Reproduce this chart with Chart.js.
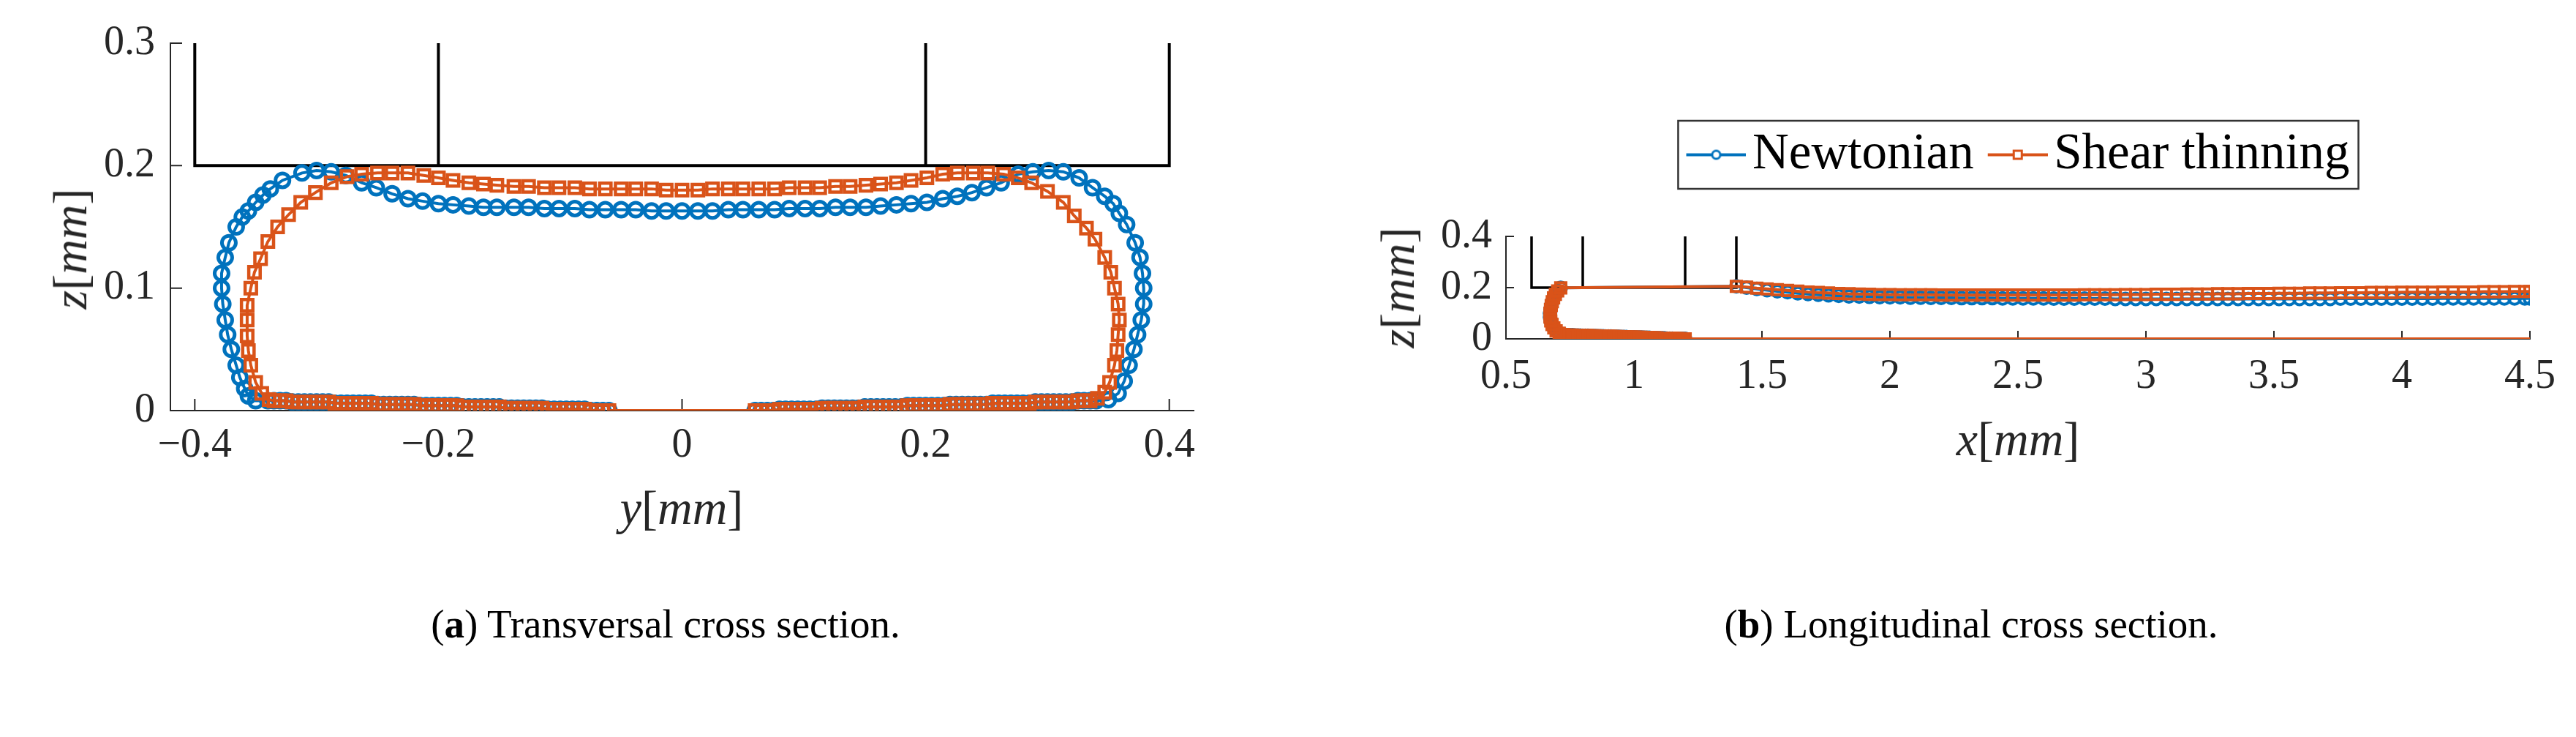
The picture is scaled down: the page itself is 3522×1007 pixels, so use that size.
<!DOCTYPE html>
<html>
<head>
<meta charset="utf-8">
<script src="https://cdn.jsdelivr.net/npm/chart.js@4.4.1/dist/chart.umd.min.js"></script>
<style>
  html, body { margin: 0; padding: 0; background: #fff; }
  body { width: 3522px; height: 1007px; position: relative; overflow: hidden; font-family: 'Liberation Serif', serif; color: #262626; }
  canvas { position: absolute; top: 0; }
  #transChart { left: 0; }
  #longChart { left: 1800px; }
  .axis-title { position: absolute; font-size: 66px; line-height: 1; white-space: nowrap; transform: translate(-50%, -50%); }
  .axis-title.vertical { transform: translate(-50%, -50%) rotate(-90deg); }
  .caption { position: absolute; top: 825px; font-size: 55px; line-height: 1; color: #000; white-space: nowrap; transform: translateX(-50%); }
</style>
</head>
<body>
<canvas id="transChart" width="1750" height="760"></canvas>
<canvas id="longChart" width="1722" height="760"></canvas>

<div class="axis-title vertical" style="left:96px; top:340px"><i>z</i>[<i>mm</i>]</div>
<div class="axis-title" style="left:932px; top:694px"><i>y</i>[<i>mm</i>]</div>
<div class="axis-title vertical" style="left:1911px; top:393px"><i>z</i>[<i>mm</i>]</div>
<div class="axis-title" style="left:2759px; top:600px"><i>x</i>[<i>mm</i>]</div>

<div class="caption" style="left:910px">(<b>a</b>) Transversal cross section.</div>
<div class="caption" style="left:2695px">(<b>b</b>) Longitudinal cross section.</div>

<script>
// ---- transversal cross section (y, z in mm) ----
// each outline: start at the gap, along the right bottom, up the right side,
// over the top, down the left side and back along the left bottom
const newtTransY = [
  -0.060,
  0.060, 0.065, 0.070, 0.075, 0.080, 0.085, 0.090, 0.095, 0.100, 0.105, 0.110, 0.115, 0.120, 0.125, 0.130, 0.135,
  0.140, 0.145, 0.150, 0.155, 0.160, 0.165, 0.170, 0.175, 0.180, 0.185, 0.190, 0.195, 0.200, 0.205, 0.210, 0.215,
  0.220, 0.225, 0.230, 0.235, 0.240, 0.245, 0.250, 0.255, 0.260, 0.265, 0.270, 0.275, 0.280, 0.285, 0.290, 0.295,
  0.300, 0.305, 0.310, 0.315, 0.320, 0.325, 0.330, 0.335, 0.340,
  0.350, 0.358, 0.363, 0.367, 0.371, 0.374, 0.377, 0.379, 0.379, 0.378, 0.376, 0.372, 0.365, 0.359, 0.354, 0.347,
  0.337, 0.326, 0.313, 0.301, 0.288, 0.276, 0.262, 0.250, 0.238, 0.226, 0.214, 0.201, 0.188, 0.176, 0.163, 0.151,
  0.138, 0.126, 0.113, 0.101, 0.088, 0.076, 0.063, 0.050, 0.038, 0.025, 0.013, 0.000, -0.013, -0.025, -0.038, -0.050,
  -0.063, -0.076, -0.088, -0.101, -0.113, -0.126, -0.138,
  -0.152, -0.163, -0.175, -0.188, -0.200, -0.213, -0.225, -0.238, -0.251, -0.263, -0.276, -0.288, -0.300, -0.312,
  -0.328, -0.338, -0.344, -0.350, -0.356, -0.361, -0.366, -0.372, -0.375, -0.378, -0.378, -0.377, -0.375, -0.373,
  -0.370, -0.366, -0.363, -0.359, -0.356, -0.350,
  -0.340, -0.335, -0.330, -0.325, -0.320, -0.315, -0.310, -0.305, -0.300, -0.295, -0.290, -0.285, -0.280, -0.275,
  -0.270, -0.265, -0.260, -0.255, -0.250, -0.245, -0.240, -0.235, -0.230, -0.225, -0.220, -0.215, -0.210, -0.205,
  -0.200, -0.195, -0.190, -0.185, -0.180, -0.175, -0.170, -0.165, -0.160, -0.155, -0.150, -0.145, -0.140, -0.135,
  -0.130, -0.125, -0.120, -0.115, -0.110, -0.105, -0.100, -0.095, -0.090, -0.085, -0.080, -0.075, -0.070, -0.065
];
const newtTransZ = [
  0.000,
  0.000, 0.000, 0.000, 0.000, 0.001, 0.001, 0.001, 0.001, 0.001, 0.001, 0.001, 0.002, 0.002, 0.002, 0.002, 0.002,
  0.002, 0.002, 0.003, 0.003, 0.003, 0.003, 0.003, 0.003, 0.003, 0.004, 0.004, 0.004, 0.004, 0.004, 0.004, 0.004,
  0.005, 0.005, 0.005, 0.005, 0.005, 0.005, 0.005, 0.006, 0.006, 0.006, 0.006, 0.006, 0.006, 0.006, 0.007, 0.007,
  0.007, 0.007, 0.007, 0.007, 0.007, 0.008, 0.008, 0.008, 0.008,
  0.009, 0.014, 0.024, 0.037, 0.050, 0.062, 0.074, 0.087, 0.100, 0.112, 0.125, 0.137, 0.152, 0.161, 0.169, 0.175,
  0.182, 0.190, 0.195, 0.196, 0.195, 0.193, 0.186, 0.182, 0.178, 0.175, 0.173, 0.170, 0.169, 0.168, 0.167, 0.166,
  0.166, 0.166, 0.165, 0.165, 0.165, 0.164, 0.164, 0.164, 0.164, 0.163, 0.163, 0.163, 0.163, 0.163, 0.164, 0.164,
  0.164, 0.164, 0.165, 0.165, 0.165, 0.166, 0.166,
  0.166, 0.166, 0.167, 0.168, 0.169, 0.171, 0.173, 0.177, 0.182, 0.186, 0.192, 0.195, 0.196, 0.194,
  0.188, 0.181, 0.176, 0.170, 0.163, 0.158, 0.150, 0.137, 0.125, 0.112, 0.100, 0.087, 0.074, 0.062,
  0.050, 0.037, 0.027, 0.018, 0.012, 0.008,
  0.008, 0.008, 0.008, 0.008, 0.007, 0.007, 0.007, 0.007, 0.007, 0.007, 0.007, 0.006, 0.006, 0.006,
  0.006, 0.006, 0.006, 0.006, 0.005, 0.005, 0.005, 0.005, 0.005, 0.005, 0.005, 0.004, 0.004, 0.004,
  0.004, 0.004, 0.004, 0.004, 0.003, 0.003, 0.003, 0.003, 0.003, 0.003, 0.003, 0.002, 0.002, 0.002,
  0.002, 0.002, 0.002, 0.002, 0.001, 0.001, 0.001, 0.001, 0.001, 0.001, 0.001, 0.000, 0.000, 0.000
];
const shearTransY = [
  -0.060,
  0.060, 0.065, 0.070, 0.075, 0.080, 0.085, 0.090, 0.095, 0.100, 0.105, 0.110, 0.115, 0.120, 0.125, 0.130, 0.135,
  0.140, 0.145, 0.150, 0.155, 0.160, 0.165, 0.170, 0.175, 0.180, 0.185, 0.190, 0.195, 0.200, 0.205, 0.210, 0.215,
  0.220, 0.225, 0.230, 0.235, 0.240, 0.245, 0.250, 0.255, 0.260, 0.265, 0.270, 0.275, 0.280, 0.285, 0.290, 0.295,
  0.300, 0.305, 0.310, 0.315, 0.320, 0.325, 0.330, 0.335, 0.341, 0.347,
  0.351, 0.355, 0.357, 0.358, 0.359, 0.358, 0.355, 0.352, 0.347, 0.339, 0.332, 0.322, 0.313, 0.300, 0.287, 0.276,
  0.264, 0.251, 0.239, 0.226, 0.214, 0.201, 0.188, 0.176, 0.163, 0.151,
  0.138, 0.126, 0.113, 0.101, 0.088, 0.076, 0.063, 0.050, 0.038, 0.025, 0.013, 0.000, -0.013, -0.025, -0.038, -0.050,
  -0.063, -0.076, -0.088, -0.101, -0.113, -0.126, -0.138,
  -0.152, -0.163, -0.175, -0.188, -0.200, -0.212, -0.225, -0.238, -0.250, -0.263, -0.275, -0.288, -0.301, -0.313,
  -0.323, -0.332, -0.340, -0.346, -0.351, -0.354, -0.357, -0.357, -0.357, -0.356, -0.354, -0.350, -0.345, -0.339,
  -0.335, -0.330, -0.325, -0.320, -0.315, -0.310, -0.305, -0.300, -0.295, -0.290, -0.285, -0.280, -0.275, -0.270,
  -0.265, -0.260, -0.255, -0.250, -0.245, -0.240, -0.235, -0.230, -0.225, -0.220, -0.215, -0.210, -0.205, -0.200,
  -0.195, -0.190, -0.185, -0.180, -0.175, -0.170, -0.165, -0.160, -0.155, -0.150, -0.145, -0.140, -0.135, -0.130,
  -0.125, -0.120, -0.115, -0.110, -0.105, -0.100, -0.095, -0.090, -0.085, -0.080, -0.075, -0.070, -0.065
];
const shearTransZ = [
  0.000,
  0.000, 0.000, 0.000, 0.000, 0.001, 0.001, 0.001, 0.001, 0.001, 0.001, 0.001, 0.002, 0.002, 0.002, 0.002, 0.002,
  0.002, 0.002, 0.003, 0.003, 0.003, 0.003, 0.003, 0.003, 0.003, 0.004, 0.004, 0.004, 0.004, 0.004, 0.004, 0.004,
  0.005, 0.005, 0.005, 0.005, 0.005, 0.005, 0.005, 0.006, 0.006, 0.006, 0.006, 0.006, 0.006, 0.006, 0.007, 0.007,
  0.007, 0.007, 0.007, 0.007, 0.007, 0.008, 0.008, 0.008, 0.010, 0.015,
  0.023, 0.037, 0.049, 0.062, 0.074, 0.087, 0.100, 0.113, 0.125, 0.140, 0.149, 0.159, 0.170, 0.179, 0.186, 0.190,
  0.193, 0.194, 0.194, 0.194, 0.193, 0.190, 0.188, 0.186, 0.185, 0.184,
  0.183, 0.183, 0.182, 0.182, 0.182, 0.181, 0.181, 0.181, 0.181, 0.181, 0.180, 0.180, 0.180, 0.181, 0.181, 0.181,
  0.181, 0.181, 0.182, 0.182, 0.182, 0.183, 0.183,
  0.184, 0.185, 0.186, 0.188, 0.190, 0.192, 0.194, 0.194, 0.194, 0.193, 0.191, 0.186, 0.178, 0.170,
  0.160, 0.150, 0.138, 0.124, 0.113, 0.100, 0.086, 0.074, 0.061, 0.049, 0.037, 0.023, 0.014, 0.009,
  0.008, 0.008, 0.008, 0.007, 0.007, 0.007, 0.007, 0.007, 0.007, 0.007, 0.006, 0.006, 0.006, 0.006,
  0.006, 0.006, 0.006, 0.005, 0.005, 0.005, 0.005, 0.005, 0.005, 0.005, 0.004, 0.004, 0.004, 0.004,
  0.004, 0.004, 0.004, 0.003, 0.003, 0.003, 0.003, 0.003, 0.003, 0.003, 0.002, 0.002, 0.002, 0.002,
  0.002, 0.002, 0.002, 0.001, 0.001, 0.001, 0.001, 0.001, 0.001, 0.001, 0.000, 0.000, 0.000
];
// channel walls (null = pen up)
const transWallY = [-0.4, -0.4, 0.4, 0.4, null, -0.2, -0.2, null, 0.2, 0.2];
const transWallZ = [0.3, 0.2, 0.2, 0.3, null, 0.2, 0.3, null, 0.2, 0.3];
const transYTicks = [-0.4, -0.2, 0, 0.2, 0.4];
const transZTicks = [0, 0.1, 0.2, 0.3];

// ---- longitudinal cross section (x, z in mm) ----
const longX = [
  1.20, 1.19, 1.18, 1.17, 1.16, 1.15, 1.14, 1.13, 1.12, 1.11, 1.10, 1.09, 1.08, 1.07, 1.06, 1.05,
  1.04, 1.03, 1.02, 1.01, 1.00, 0.99, 0.98, 0.97, 0.96, 0.95, 0.94, 0.93, 0.92, 0.91, 0.90, 0.89,
  0.88, 0.87, 0.86, 0.85, 0.84, 0.83, 0.82, 0.81, 0.80, 0.79, 0.78, 0.77, 0.76, 0.75, 0.74,
  0.724, 0.708, 0.696, 0.687, 0.680, 0.675, 0.672, 0.672, 0.674, 0.677, 0.681, 0.686, 0.693, 0.702, 0.714,
  1.40, 1.44, 1.48, 1.52, 1.56, 1.60, 1.64, 1.68, 1.72, 1.76,
  1.80, 1.84, 1.88, 1.92, 1.96, 2.00, 2.04, 2.08, 2.12, 2.16,
  2.20, 2.24, 2.28, 2.32, 2.36, 2.40, 2.44, 2.48, 2.52, 2.56,
  2.60, 2.64, 2.68, 2.72, 2.76, 2.80, 2.84, 2.88, 2.92, 2.96,
  3.00, 3.04, 3.08, 3.12, 3.16, 3.20, 3.24, 3.28, 3.32, 3.36,
  3.40, 3.44, 3.48, 3.52, 3.56, 3.60, 3.64, 3.68, 3.72, 3.76,
  3.80, 3.84, 3.88, 3.92, 3.96, 4.00, 4.04, 4.08, 4.12, 4.16,
  4.20, 4.24, 4.28, 4.32, 4.36, 4.40, 4.44, 4.48, 4.50
];
const newtLongZ = [
  0.000, 0.000, 0.000, 0.000, 0.000, 0.001, 0.001, 0.001, 0.002, 0.002, 0.002, 0.003, 0.003, 0.003, 0.004, 0.004,
  0.004, 0.005, 0.005, 0.005, 0.006, 0.006, 0.006, 0.007, 0.007, 0.007, 0.008, 0.008, 0.008, 0.009, 0.009, 0.009,
  0.010, 0.010, 0.010, 0.011, 0.011, 0.011, 0.012, 0.012, 0.012, 0.013, 0.013, 0.013, 0.014, 0.014, 0.014,
  0.017, 0.022, 0.031, 0.043, 0.056, 0.070, 0.085, 0.100, 0.115, 0.130, 0.145, 0.160, 0.174, 0.187, 0.199,
  0.205, 0.200, 0.195, 0.190, 0.186, 0.182, 0.178, 0.175, 0.172, 0.170,
  0.168, 0.166, 0.165, 0.164, 0.163, 0.162, 0.162, 0.161, 0.161, 0.160,
  0.160, 0.160, 0.159, 0.159, 0.159, 0.159, 0.158, 0.158, 0.158, 0.158,
  0.158, 0.157, 0.157, 0.157, 0.157, 0.157, 0.157, 0.156, 0.156, 0.156,
  0.156, 0.156, 0.156, 0.156, 0.156, 0.156, 0.156, 0.156, 0.156, 0.156,
  0.156, 0.156, 0.156, 0.156, 0.156, 0.156, 0.156, 0.156, 0.156, 0.157,
  0.157, 0.157, 0.157, 0.157, 0.157, 0.157, 0.157, 0.157, 0.157, 0.158,
  0.158, 0.158, 0.158, 0.158, 0.158, 0.158, 0.158, 0.158, 0.158
];
const shearLongZ = [
  0.000, 0.000, 0.001, 0.001, 0.001, 0.002, 0.002, 0.002, 0.003, 0.003, 0.003, 0.004, 0.004, 0.004, 0.005, 0.005,
  0.005, 0.006, 0.006, 0.006, 0.007, 0.007, 0.007, 0.008, 0.008, 0.008, 0.009, 0.009, 0.009, 0.010, 0.010, 0.010,
  0.011, 0.011, 0.011, 0.012, 0.012, 0.012, 0.013, 0.013, 0.013, 0.014, 0.014, 0.014, 0.015, 0.015, 0.015,
  0.017, 0.022, 0.031, 0.043, 0.056, 0.070, 0.085, 0.100, 0.115, 0.130, 0.145, 0.160, 0.174, 0.187, 0.199,
  0.205, 0.202, 0.198, 0.195, 0.192, 0.189, 0.186, 0.183, 0.181, 0.179,
  0.177, 0.176, 0.175, 0.174, 0.173, 0.173, 0.172, 0.172, 0.172, 0.172,
  0.171, 0.171, 0.171, 0.171, 0.171, 0.171, 0.171, 0.171, 0.171, 0.171,
  0.171, 0.171, 0.171, 0.171, 0.172, 0.172, 0.172, 0.172, 0.173, 0.173,
  0.173, 0.174, 0.174, 0.174, 0.175, 0.175, 0.175, 0.176, 0.176, 0.176,
  0.177, 0.177, 0.177, 0.178, 0.178, 0.178, 0.179, 0.179, 0.179, 0.180,
  0.180, 0.180, 0.181, 0.181, 0.181, 0.182, 0.182, 0.182, 0.182, 0.183,
  0.183, 0.183, 0.183, 0.184, 0.184, 0.184, 0.185, 0.185, 0.185
];
// substrate line under the drop
const longBaseX = [1.2, 4.5];
const longBaseZ = [0, 0];
const longWallX = [0.6, 0.6, 1.4, 1.4, null, 0.8, 0.8, null, 1.2, 1.2];
const longWallZ = [0.4, 0.2, 0.2, 0.4, null, 0.2, 0.4, null, 0.2, 0.4];
const longXTicks = [0.5, 1, 1.5, 2, 2.5, 3, 3.5, 4, 4.5];
const longZTicks = [0, 0.2, 0.4];

const blue = '#0072BD';
const orange = '#D95319';
const axisColor = '#262626';
const tickFont = { family: "'Liberation Serif', serif", size: 56 };

Chart.defaults.font.family = "'Liberation Serif', serif";

function points(xs, ys) {
  return xs.map((v, i) => ({ x: v, y: ys[i] }));
}

function fmt(value) {
  return String(value).replace('-', '\u2212');
}

function axis(min, max, ticks, fitSize, pad, horizontal) {
  return {
    type: 'linear',
    min: min,
    max: max,
    afterBuildTicks: s => { s.ticks = ticks.map(v => ({ value: v })); },
    afterFit: s => {
      if (horizontal) s.height = fitSize; else s.width = fitSize;
    },
    grid: { display: false, drawTicks: false },
    border: { display: true, color: axisColor, width: 2 },
    ticks: { font: tickFont, color: axisColor, padding: pad, callback: fmt, autoSkip: false, maxRotation: 0 }
  };
}

// empty band that keeps the legend clear of the axes
function spacer(size) {
  return {
    type: 'linear',
    position: 'top',
    display: true,
    afterFit: s => { s.height = size; },
    grid: { display: false, drawTicks: false },
    border: { display: false },
    ticks: { display: false }
  };
}

// MATLAB style ticks pointing into the plot
const inwardTicks = {
  id: 'inwardTicks',
  beforeDatasetsDraw(chart, args, opts) {
    const { ctx, chartArea: a, scales: { x, y } } = chart;
    ctx.save();
    ctx.strokeStyle = axisColor;
    ctx.lineWidth = 2;
    ctx.beginPath();
    x.ticks.forEach(t => {
      const p = x.getPixelForValue(t.value);
      ctx.moveTo(p, a.bottom);
      ctx.lineTo(p, a.bottom - opts.len);
    });
    y.ticks.forEach(t => {
      const p = y.getPixelForValue(t.value);
      ctx.moveTo(a.left, p);
      ctx.lineTo(a.left + opts.len, p);
    });
    ctx.stroke();
    ctx.restore();
  }
};

const legendFrame = {
  id: 'legendFrame',
  afterDraw(chart, args, opts) {
    const boxes = chart.legend && chart.legend.legendHitBoxes;
    if (!boxes || !boxes.length) return;
    const left = Math.min(...boxes.map(b => b.left)) - opts.padLeft;
    const right = Math.max(...boxes.map(b => b.left + b.width)) + opts.padRight;
    const mid = boxes[0].top + boxes[0].height / 2;
    const ctx = chart.ctx;
    ctx.save();
    ctx.strokeStyle = '#333';
    ctx.lineWidth = 2.5;
    ctx.strokeRect(left, mid - opts.halfHeight, right - left, opts.halfHeight * 2);
    ctx.restore();
  }
};

// legend sample: line with its marker; the left part of the image stays empty
function legendIcon(color, style) {
  const c = document.createElement('canvas');
  c.width = 108;
  c.height = 22;
  const g = c.getContext('2d');
  g.strokeStyle = color;
  g.lineWidth = 4;
  g.beginPath();
  g.moveTo(26, 11);
  g.lineTo(108, 11);
  g.stroke();
  g.lineWidth = 3;
  g.fillStyle = '#fff';
  if (style === 'circle') {
    g.beginPath();
    g.arc(67, 11, 5.5, 0, Math.PI * 2);
    g.fill();
    g.stroke();
  } else {
    g.fillRect(61.5, 5.5, 11, 11);
    g.strokeRect(61.5, 5.5, 11, 11);
  }
  return c;
}

function series(label, xs, ys, color, style, radius, width, order) {
  return {
    label: label,
    data: points(xs, ys),
    showLine: true,
    borderColor: color,
    borderWidth: 4,
    pointStyle: style,
    pointRadius: radius,
    pointBorderWidth: width,
    pointBorderColor: color,
    pointBackgroundColor: 'rgba(0,0,0,0)',
    order: order
  };
}

function plainLine(label, xs, ys, color, width, order) {
  return {
    label: label,
    data: points(xs, ys),
    showLine: true,
    borderColor: color,
    borderWidth: width,
    pointRadius: 0,
    order: order
  };
}

new Chart(document.getElementById('transChart'), {
  type: 'scatter',
  data: {
    datasets: [
      series('Newtonian', newtTransY, newtTransZ, blue, 'circle', 9.5, 5, 1),
      series('Shear thinning', shearTransY, shearTransZ, orange, 'rect', 11, 4.5, 0),
      plainLine('walls', transWallY, transWallZ, '#000', 4, 2)
    ]
  },
  options: {
    responsive: false,
    devicePixelRatio: 1,
    animation: false,
    events: [],
    layout: { padding: { top: 59, right: 118, bottom: 0, left: 0 } },
    scales: {
      x: axis(-0.42, 0.42, transYTicks, 199, 15, true),
      y: axis(0, 0.3, transZTicks, 233, 21, false)
    },
    plugins: {
      legend: { display: false },
      tooltip: { enabled: false },
      inwardTicks: { len: 16 }
    }
  },
  plugins: [inwardTicks]
});

new Chart(document.getElementById('longChart'), {
  type: 'scatter',
  data: {
    datasets: [
      series('Newtonian', longX, newtLongZ, blue, 'circle', 8, 4, 2),
      series('Shear thinning', longX, shearLongZ, orange, 'rect', 10, 4, 1),
      plainLine('base', longBaseX, longBaseZ, orange, 4, 0),
      plainLine('walls', longWallX, longWallZ, '#000', 3.5, 3)
    ]
  },
  options: {
    responsive: false,
    devicePixelRatio: 1,
    animation: false,
    events: [],
    layout: { padding: { top: 158, right: 63, bottom: 0, left: 0 } },
    scales: {
      x: axis(0.5, 4.5, longXTicks, 297, 19, true),
      y: axis(0, 0.4, longZTicks, 259, 19, false),
      gap: spacer(67)
    },
    plugins: {
      legend: {
        display: true,
        position: 'top',
        align: 'center',
        fullSize: false,
        labels: {
          font: { family: "'Liberation Serif', serif", size: 69 },
          color: '#000',
          usePointStyle: true,
          pointStyleWidth: 56,
          padding: 19,
          generateLabels: () => [
            { text: 'Newtonian', pointStyle: legendIcon(blue, 'circle'), fillStyle: blue, strokeStyle: blue, lineWidth: 0, datasetIndex: 0, hidden: false, fontColor: '#000' },
            { text: 'Shear thinning', pointStyle: legendIcon(orange, 'rect'), fillStyle: orange, strokeStyle: orange, lineWidth: 0, datasetIndex: 1, hidden: false, fontColor: '#000' }
          ]
        }
      },
      tooltip: { enabled: false },
      inwardTicks: { len: 11 },
      legendFrame: { padLeft: 11, padRight: 12, halfHeight: 46.5 }
    }
  },
  plugins: [inwardTicks, legendFrame]
});
</script>
</body>
</html>
